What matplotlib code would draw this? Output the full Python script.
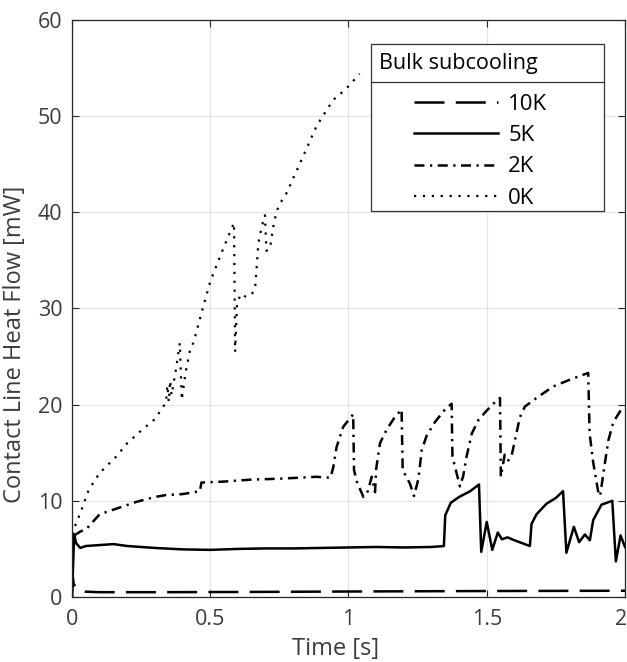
import matplotlib.pyplot as plt
from matplotlib.patches import Rectangle
from matplotlib.transforms import ScaledTranslation

plt.rcParams['font.family'] = ['Open Sans', 'DejaVu Sans']

# 10K bulk subcooling
t_10k = [0, 0.003, 0.006, 0.012, 0.025, 0.05, 0.1, 0.3, 0.6, 1.0, 1.5, 2.0]
q_10k = [0, 2.1, 1.4, 1.05, 0.8, 0.55, 0.5, 0.5, 0.52, 0.57, 0.62, 0.65]

# 5K
t_5k = [0, 0.008, 0.015, 0.03, 0.05, 0.1, 0.15, 0.2, 0.3, 0.4,
        0.5, 0.6, 0.7, 0.8, 0.9, 1.0, 1.1, 1.2, 1.3, 1.345,
        1.35, 1.37, 1.4, 1.44, 1.472, 1.48, 1.5, 1.52, 1.54, 1.555,
        1.575, 1.6, 1.656, 1.662, 1.68, 1.716, 1.75, 1.776, 1.788, 1.815,
        1.834, 1.855, 1.873, 1.885, 1.915, 1.954, 1.967, 1.984, 2.0]
q_5k = [0, 6.5, 5.6, 5.1, 5.3, 5.4, 5.5, 5.3, 5.1, 4.95,
        4.9, 5.0, 5.05, 5.05, 5.1, 5.15, 5.2, 5.15, 5.2, 5.3,
        8.5, 9.8, 10.4, 11.0, 11.7, 4.7, 7.8, 4.9, 6.7, 6.0,
        6.2, 5.9, 5.3, 7.6, 8.6, 9.7, 10.3, 11.0, 4.6, 7.3,
        5.7, 6.5, 5.9, 8.0, 9.6, 10.0, 3.7, 6.4, 5.2]

# 2K
t_2k = [0.008, 0.03, 0.053, 0.1, 0.162, 0.234, 0.3, 0.34, 0.4, 0.463,
        0.468, 0.55, 0.644, 0.75, 0.885, 0.935, 0.945, 0.957, 0.981, 1.017,
        1.02, 1.03, 1.054, 1.07, 1.084, 1.096, 1.1, 1.114, 1.138, 1.165,
        1.192, 1.196, 1.222, 1.237, 1.253, 1.265, 1.283, 1.313, 1.349, 1.373,
        1.376, 1.403, 1.415, 1.427, 1.446, 1.47, 1.494, 1.524, 1.548, 1.551,
        1.565, 1.578, 1.59, 1.602, 1.62, 1.638, 1.68, 1.741, 1.801, 1.867,
        1.872, 1.885, 1.904, 1.91, 1.922, 1.94, 1.958, 1.982, 2.0]
q_2k = [6.4, 6.8, 7.1, 8.6, 9.2, 9.9, 10.4, 10.6, 10.7, 11.0,
        11.9, 12.0, 12.2, 12.3, 12.5, 12.4, 13.5, 15.6, 17.7, 19.0,
        13.2, 12.0, 10.4, 11.0, 12.5, 10.9, 13.3, 16.0, 17.4, 18.6,
        19.5, 13.2, 11.8, 10.5, 12.3, 15.3, 16.8, 18.2, 19.5, 20.1,
        14.6, 11.5, 12.6, 14.6, 17.0, 18.4, 19.2, 20.1, 20.7, 12.5,
        14.8, 14.2, 14.7, 16.3, 18.7, 19.8, 20.7, 21.9, 22.6, 23.3,
        17.0, 14.0, 10.8, 10.5, 12.9, 16.3, 18.2, 19.3, 19.6]

# 0K
t_0k = [0.002, 0.007, 0.03, 0.06, 0.1, 0.16, 0.2, 0.25, 0.3, 0.33,
        0.34, 0.345, 0.35, 0.355, 0.36, 0.375, 0.39, 0.397, 0.41, 0.427,
        0.44, 0.47, 0.5, 0.53, 0.565, 0.586, 0.59, 0.597, 0.61, 0.63,
        0.65, 0.662, 0.668, 0.674, 0.686, 0.698, 0.703, 0.716, 0.728, 0.74,
        0.752, 0.776, 0.82, 0.885, 0.945, 0.99, 1.04]
q_0k = [6.5, 7.1, 8.7, 11.1, 12.9, 14.6, 16.0, 17.3, 18.5, 19.8,
        20.2, 22.0, 20.3, 22.5, 21.0, 23.5, 26.4, 20.5, 23.2, 25.7,
        26.5, 29.7, 32.8, 35.0, 37.5, 38.9, 25.5, 30.5, 31.5, 31.2,
        31.5, 32.0, 34.3, 36.8, 38.5, 39.7, 36.0, 36.2, 38.5, 40.1,
        40.9, 42.0, 44.8, 49.0, 51.7, 52.8, 54.4]

x_ticks = [0, 0.5, 1, 1.5, 2]
x_tick_labels = ['0', '0.5', '1', '1.5', '2']
y_ticks = [0, 10, 20, 30, 40, 50, 60]

txt_col = '#3c3c3c'

fig = plt.figure(figsize=(6.27, 6.62), dpi=100)
ax = fig.add_axes([0.1148, 0.0982, 0.882, 0.8716])

ax.plot(t_10k, q_10k, color='black', lw=1.8, linestyle=(0, (12, 4.5)), label='10K')
ax.plot(t_5k, q_5k, color='black', lw=1.8, linestyle='-', label='5K')
ax.plot(t_2k, q_2k, color='black', lw=1.8, linestyle=(0, (4, 2.2, 0.9, 2.2)), label='2K')
ax.plot(t_0k, q_0k, color='black', lw=1.6, linestyle=(0, (1, 3)), label='0K')

ax.set_xlim(0, 2)
ax.set_ylim(0, 60)
ax.set_xticks(x_ticks)
ax.set_xticklabels(x_tick_labels)
ax.set_yticks(y_ticks)
ax.grid(True, color='#e3e3e3', lw=0.9)
ax.set_axisbelow(True)
ax.tick_params(direction='in', length=5, width=0.8, top=True, right=True,
               labelsize=15.5, colors='#262626', labelcolor=txt_col)
ax.tick_params(axis='x', pad=9)
ax.tick_params(axis='y', pad=7)
for sp in ax.spines.values():
    sp.set_color('#262626')
    sp.set_linewidth(0.9)

# nudge the last x tick label so it stays inside the figure
last_lbl = ax.get_xticklabels()[-1]
last_lbl.set_transform(last_lbl.get_transform()
                       + ScaledTranslation(-3 / 72, 0, fig.dpi_scale_trans))

ax.set_xlabel('Time [s]', fontsize=17, color=txt_col)
ax.set_ylabel('Contact Line Heat Flow [mW]', fontsize=17, color=txt_col)
ax.xaxis.set_label_coords(0.477, -0.069)
ax.yaxis.set_label_coords(-0.082, 0.4385)

# MATLAB style legend box with a separate title section
box_x0, box_y0, box_w, box_h = 0.540, 0.6695, 0.422, 0.2885
sep_y = 0.8925
ax.add_patch(Rectangle((box_x0, box_y0), box_w, box_h, transform=ax.transAxes,
                       facecolor='white', edgecolor='#333333', lw=0.9, zorder=5))
ax.plot([box_x0, box_x0 + box_w], [sep_y, sep_y], transform=ax.transAxes,
        color='#333333', lw=0.9, zorder=6)
ax.text(box_x0 + 0.016, (sep_y + box_y0 + box_h) / 2, 'Bulk subcooling',
        transform=ax.transAxes, fontsize=15.5, color='black', va='center',
        zorder=7)
leg = ax.legend(loc='upper left', bbox_to_anchor=(0.618, 0.872), frameon=False,
                fontsize=16, handlelength=3.8, handletextpad=0.45,
                labelspacing=0.46, borderpad=0, borderaxespad=0)
leg.set_zorder(8)

fig.savefig('out.png', dpi=100)
